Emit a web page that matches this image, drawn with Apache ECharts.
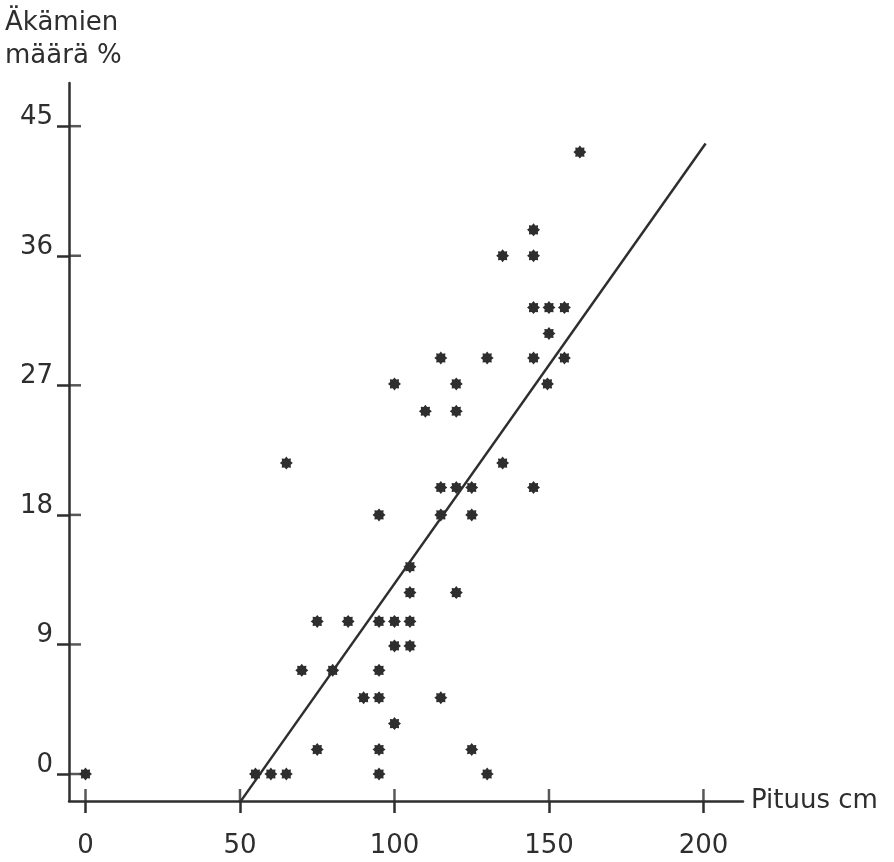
<!DOCTYPE html>
<html>
<head>
<meta charset="utf-8">
<script src="https://cdn.jsdelivr.net/npm/echarts@6/dist/echarts.min.js"></script>
<style>
  html, body { margin: 0; padding: 0; background: #fff; }
  #chart { width: 894px; height: 862px; }
</style>
</head>
<body>
<div id="chart"></div>
<script>
// pituus (cm) ja äkämien määrä (%) – pisteet riveittäin alhaalta ylös
const lengthCm = [
  0, 55, 60, 65, 95, 130,
  75, 95, 125,
  100,
  90, 95, 115,
  70, 80, 95,
  100, 105,
  75, 85, 95, 100, 105,
  105, 120,
  105,
  95, 115, 125,
  115, 120, 125, 145,
  65, 135,
  110, 120,
  100, 120, 149.5,
  115, 130, 145, 155,
  150,
  145, 150, 155,
  135, 145,
  145,
  160,
];
const gallPct = [
  0, 0, 0, 0, 0, 0,
  1.7, 1.7, 1.7,
  3.5,
  5.3, 5.3, 5.3,
  7.2, 7.2, 7.2,
  8.9, 8.9,
  10.6, 10.6, 10.6, 10.6, 10.6,
  12.6, 12.6,
  14.4,
  18, 18, 18,
  19.9, 19.9, 19.9, 19.9,
  21.6, 21.6,
  25.2, 25.2,
  27.1, 27.1, 27.1,
  28.9, 28.9, 28.9, 28.9,
  30.6,
  32.4, 32.4, 32.4,
  36, 36,
  37.8,
  43.2,
];
// regressiosuoran päätepisteet
const fitX = [50.2, 200.7];
const fitY = [-1.9, 43.8];

const xTicks = [0, 50, 100, 150, 200];
const yTicks = [0, 9, 18, 27, 36, 45];

const xMin = -5.34, xMax = 212.8;
const yMin = -1.875, yMax = 48.0;

const ink = '#2e2e2e';
const font = 'DejaVu Sans';
const star = 'path://M100 0 L66.5 27.6 L70.7 70.7 L27.6 66.5 L0 100 L-27.6 66.5 L-70.7 70.7 L-66.5 27.6 L-100 0 L-66.5 -27.6 L-70.7 -70.7 L-27.6 -66.5 L0 -100 L27.6 -66.5 L70.7 -70.7 L66.5 -27.6 Z';

const chart = echarts.init(document.getElementById('chart'));
const tickStyle = { color: ink, width: 2.5 };

chart.setOption({
  animation: false,
  grid: { left: 69, right: 151, top: 83, bottom: 61 },
  xAxis: {
    type: 'value',
    min: xMin,
    max: xMax,
    splitLine: { show: false },
    name: 'Pituus cm',
    nameLocation: 'end',
    nameGap: 8,
    nameTextStyle: { fontFamily: font, fontSize: 26, color: ink, verticalAlign: 'middle' },
    axisLine: { onZero: false, lineStyle: { color: ink, width: 2.5 } },
    axisTick: { customValues: xTicks, length: 12, lineStyle: tickStyle },
    axisLabel: { customValues: xTicks, margin: 32, fontFamily: font, fontSize: 26, color: ink },
  },
  yAxis: {
    type: 'value',
    min: yMin,
    max: yMax,
    splitLine: { show: false },
    name: 'Äkämien\nmäärä %',
    nameLocation: 'end',
    nameGap: 10,
    nameTextStyle: {
      fontFamily: font, fontSize: 26, color: ink, lineHeight: 33,
      align: 'left', verticalAlign: 'bottom', padding: [0, 0, 0, -64],
    },
    axisLine: { onZero: false, lineStyle: { color: ink, width: 2.5 } },
    axisTick: { customValues: yTicks, length: 12, lineStyle: tickStyle },
    axisLabel: {
      customValues: yTicks, margin: 16, fontFamily: font, fontSize: 26, color: ink,
      verticalAlign: 'bottom', lineHeight: 18,
    },
  },
  series: [
    {
      type: 'line',
      data: fitX.map((x, i) => [x, fitY[i]]),
      showSymbol: false,
      lineStyle: { color: ink, width: 2.5 },
      z: 2,
    },
    {
      type: 'scatter',
      data: lengthCm.map((x, i) => [x, gallPct[i]]),
      symbol: star,
      symbolSize: 13,
      itemStyle: { color: ink, opacity: 1 },
      z: 3,
    },
    // tikkien sisäpuoliset puolikkaat (akselin yli menevät viivat)
    {
      type: 'scatter',
      data: xTicks.map((v) => [v, yMin]),
      symbol: 'rect',
      symbolSize: [2.5, 12],
      symbolOffset: [0, -6],
      itemStyle: { color: ink },
      clip: false,
      silent: true,
      z: 4,
    },
    {
      type: 'scatter',
      data: yTicks.map((v) => [xMin, v]),
      symbol: 'rect',
      symbolSize: [12, 2.5],
      symbolOffset: [6, 0],
      itemStyle: { color: ink },
      clip: false,
      silent: true,
      z: 4,
    },
  ],
});
</script>
</body>
</html>
